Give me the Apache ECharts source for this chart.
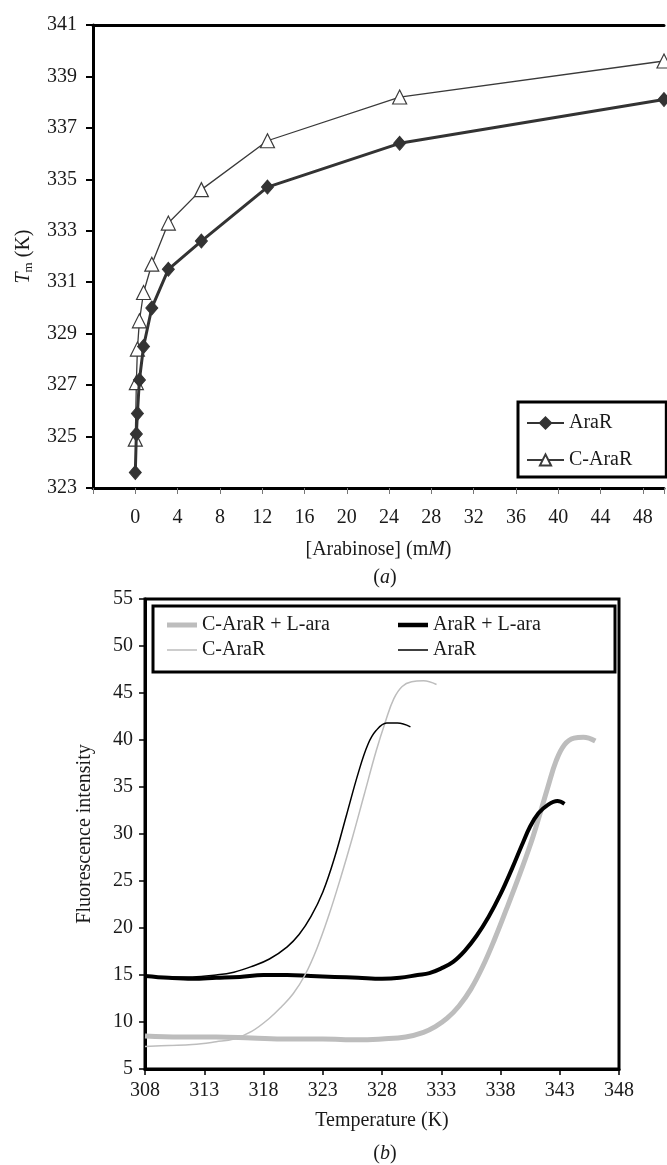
<!DOCTYPE html>
<html>
<head>
<meta charset="utf-8">
<script src="https://cdn.jsdelivr.net/npm/echarts@6/dist/echarts.min.js"></script>
<style>
html,body{margin:0;padding:0;background:#fff;}
#chart{width:667px;height:1165px;}
</style>
</head>
<body>
<div id="chart"></div>
<script>
// ---------- Panel (a) data ----------
const arabinoseConc = [0, 0.1, 0.2, 0.39, 0.78, 1.56, 3.125, 6.25, 12.5, 25, 50];
const tmAraR  = [323.6, 325.1, 325.9, 327.2, 328.5, 330.0, 331.5, 332.6, 334.7, 336.4, 338.1];
const tmCAraR = [324.9, 327.1, 328.4, 329.5, 330.6, 331.7, 333.3, 334.6, 336.5, 338.2, 339.6];

// ---------- Panel (b) data ----------
const tempCAraRLara = [308, 311, 314, 317, 320, 323, 326, 328, 330, 331.5, 332.5, 333.5, 334.5, 335.5, 336.5, 337.5, 338.5, 339.5, 340.5, 341.2, 342, 342.7, 343.4, 344.2, 345, 346];
const fluCAraRLara  = [8.5, 8.4, 8.4, 8.3, 8.2, 8.2, 8.1, 8.2, 8.4, 8.9, 9.5, 10.4, 11.7, 13.5, 15.9, 18.8, 22.0, 25.3, 28.8, 31.6, 35.0, 37.8, 39.5, 40.2, 40.3, 39.9];

const tempAraRLara = [308, 310, 312, 314, 316, 318, 320, 322, 324, 326, 328, 329.5, 331, 332, 333, 334, 335, 336, 337, 338, 339, 339.8, 340.5, 341.2, 342, 342.8, 343.4];
const fluAraRLara  = [14.9, 14.7, 14.6, 14.7, 14.8, 15.0, 15.0, 14.9, 14.8, 14.7, 14.6, 14.7, 15.0, 15.2, 15.7, 16.4, 17.6, 19.2, 21.2, 23.6, 26.4, 28.8, 30.8, 32.2, 33.1, 33.5, 33.2];

const tempCAraR = [308, 310, 312, 314, 315.5, 317, 318.5, 319.5, 320.5, 321.5, 322.5, 323.5, 324.5, 325.5, 326.5, 327.5, 328.3, 329, 329.7, 330.5, 331.5, 332.6];
const fluCAraR  = [7.4, 7.5, 7.6, 7.9, 8.2, 9.0, 10.4, 11.6, 13.0, 15.0, 17.8, 21.3, 25.3, 29.6, 34.2, 38.8, 42.0, 44.4, 45.7, 46.2, 46.3, 45.9];

const tempAraR = [308, 310, 312, 314, 315.5, 317, 318.5, 320, 321, 322, 323, 324, 325, 326, 326.8, 327.5, 328.4, 329.3, 330.4];
const fluAraR  = [14.9, 14.8, 14.8, 15.0, 15.3, 15.9, 16.7, 18.0, 19.3, 21.2, 23.8, 27.5, 32.0, 36.5, 39.5, 41.0, 41.8, 41.8, 41.4];

const xTicksA = {min: -4, max: 50, step: 4};
const yTicksA = {min: 323, max: 341, step: 2};
const xTicksB = {min: 308, max: 348, step: 5};
const yTicksB = {min: 5, max: 55, step: 5};

const pair = (xs, ys) => xs.map((x, i) => [x, ys[i]]);

const FONT = '"Liberation Serif", "Times New Roman", serif';
const txt = {fontFamily: FONT, fontSize: 20, color: '#1a1a1a'};
const barIcon = h => 'path://M0,0L30,0L30,' + h + 'L0,' + h + 'Z';
const colL = Object.assign({}, txt, {lineHeight: 20, width: 191});
const colR = Object.assign({}, txt, {lineHeight: 20, width: 170});

const chart = echarts.init(document.getElementById('chart'), null, {renderer: 'canvas'});

const option = {
  backgroundColor: '#fff',
  animation: false,
  title: [
    {text: '({i|a})', left: 380, top: 563, textAlign: 'center',
     textStyle: Object.assign({}, txt, {fontWeight: 'normal', rich: {i: Object.assign({}, txt, {fontStyle: 'italic'})}})},
    {text: '({i|b})', left: 380, top: 1139, textAlign: 'center',
     textStyle: Object.assign({}, txt, {fontWeight: 'normal', rich: {i: Object.assign({}, txt, {fontStyle: 'italic'})}})}
  ],
  grid: [
    {left: 93, top: 25, right: -3, height: 463, show: false},
    {left: 145, top: 599, width: 474, height: 470, show: true, borderColor: '#000', borderWidth: 3, backgroundColor: '#fff'}
  ],
  legend: [
    {
      data: ['AraR', 'C-AraR'],
      orient: 'vertical',
      left: 518, top: 402,
      padding: [11, 34, 7, 8],
      itemWidth: 37, itemHeight: 14, itemGap: 17,
      borderColor: '#000', borderWidth: 3, backgroundColor: '#fff',
      textStyle: Object.assign({}, txt, {lineHeight: 20})
    },
    {
      data: [
        {name: 'C-AraR + L-ara', icon: barIcon(5), textStyle: colL},
        {name: 'AraR + L-ara', icon: barIcon(4.5), textStyle: colR},
        {name: 'C-AraR ', icon: barIcon(1.5), textStyle: colL},
        {name: 'AraR ', icon: barIcon(1.5), textStyle: colR}
      ],
      orient: 'horizontal',
      left: 153, top: 606,
      width: 445,
      padding: [9, 12, 12, 14],
      itemWidth: 30, itemHeight: 14, itemGap: 5,
      borderColor: '#000', borderWidth: 3, backgroundColor: '#fff',
      textStyle: Object.assign({}, txt, {lineHeight: 20})
    }
  ],
  xAxis: [
    {
      type: 'value', gridIndex: 0,
      min: xTicksA.min, max: xTicksA.max, interval: xTicksA.step,
      name: '[Arabinose] (m{i|M})', nameLocation: 'middle', nameGap: 52,
      nameTextStyle: Object.assign({}, txt, {rich: {i: Object.assign({}, txt, {fontStyle: 'italic'})}}),
      axisLine: {show: true, onZero: false, lineStyle: {color: '#000', width: 3}},
      axisTick: {show: true, inside: false, length: 6, lineStyle: {color: '#777', width: 1}},
      axisLabel: Object.assign({}, txt, {margin: 20, formatter: v => (v < 0 || v > 48) ? '' : String(v)}),
      splitLine: {show: false}
    },
    {
      type: 'value', gridIndex: 1,
      min: xTicksB.min, max: xTicksB.max, interval: xTicksB.step,
      name: 'Temperature (K)', nameLocation: 'middle', nameGap: 42,
      nameTextStyle: txt,
      axisLine: {show: true, onZero: false, lineStyle: {color: '#000', width: 3}},
      axisTick: {show: true, inside: false, length: 6, lineStyle: {color: '#000', width: 1.5}},
      axisLabel: Object.assign({}, txt, {margin: 12}),
      splitLine: {show: false}
    },
    {
      type: 'value', gridIndex: 0, position: 'top',
      min: xTicksA.min, max: xTicksA.max,
      axisLine: {show: true, onZero: false, lineStyle: {color: '#000', width: 3}},
      axisTick: {show: false}, axisLabel: {show: false}, splitLine: {show: false}
    }
  ],
  yAxis: [
    {
      type: 'value', gridIndex: 0,
      min: yTicksA.min, max: yTicksA.max, interval: yTicksA.step,
      name: '{t|T}{s|m}{n| (K)}', nameLocation: 'middle', nameGap: 58, nameRotate: 90,
      nameTextStyle: Object.assign({}, txt, {rich: {
        t: Object.assign({}, txt, {fontStyle: 'italic'}),
        s: Object.assign({}, txt, {fontSize: 13, padding: [10, 0, 0, 0]}),
        n: txt
      }}),
      axisLine: {show: true, onZero: false, lineStyle: {color: '#000', width: 3}},
      axisTick: {show: true, inside: false, length: 7, lineStyle: {color: '#000', width: 2}},
      axisLabel: Object.assign({}, txt, {margin: 16}),
      splitLine: {show: false}
    },
    {
      type: 'value', gridIndex: 1,
      min: yTicksB.min, max: yTicksB.max, interval: yTicksB.step,
      name: 'Fluorescence intensity', nameLocation: 'middle', nameGap: 50,
      nameTextStyle: txt,
      axisLine: {show: true, onZero: false, lineStyle: {color: '#000', width: 3}},
      axisTick: {show: true, inside: false, length: 6, lineStyle: {color: '#000', width: 1.5}},
      axisLabel: Object.assign({}, txt, {margin: 12}),
      splitLine: {show: false}
    }
  ],
  series: [
    {
      name: 'C-AraR', type: 'line', xAxisIndex: 0, yAxisIndex: 0,
      data: pair(arabinoseConc, tmCAraR),
      symbol: 'triangle', symbolSize: 14, showAllSymbol: true, clip: false,
      lineStyle: {color: '#3a3a3a', width: 1.3},
      itemStyle: {color: '#fff', borderColor: '#3a3a3a', borderWidth: 1.2},
      z: 3
    },
    {
      name: 'AraR', type: 'line', xAxisIndex: 0, yAxisIndex: 0,
      data: pair(arabinoseConc, tmAraR),
      symbol: 'diamond', symbolSize: [12, 14], showAllSymbol: true, clip: false,
      lineStyle: {color: '#333', width: 3},
      itemStyle: {color: '#333', borderColor: '#333', borderWidth: 1},
      z: 4
    },
    {
      name: 'C-AraR + L-ara', type: 'line', xAxisIndex: 1, yAxisIndex: 1,
      data: pair(tempCAraRLara, fluCAraRLara), smooth: 0.4, showSymbol: false, symbol: 'none',
      lineStyle: {color: '#bdbdbd', width: 5}, itemStyle: {color: '#bdbdbd'}
    },
    {
      name: 'AraR + L-ara', type: 'line', xAxisIndex: 1, yAxisIndex: 1,
      data: pair(tempAraRLara, fluAraRLara), smooth: 0.4, showSymbol: false, symbol: 'none',
      lineStyle: {color: '#000', width: 4}, itemStyle: {color: '#000'}
    },
    {
      name: 'C-AraR ', type: 'line', xAxisIndex: 1, yAxisIndex: 1,
      data: pair(tempCAraR, fluCAraR), smooth: 0.4, showSymbol: false, symbol: 'none',
      lineStyle: {color: '#bdbdbd', width: 1.5}, itemStyle: {color: '#bdbdbd'}
    },
    {
      name: 'AraR ', type: 'line', xAxisIndex: 1, yAxisIndex: 1,
      data: pair(tempAraR, fluAraR), smooth: 0.4, showSymbol: false, symbol: 'none',
      lineStyle: {color: '#000', width: 1.5}, itemStyle: {color: '#000'}
    }
  ]
};
chart.setOption(option);
</script>
</body>
</html>
